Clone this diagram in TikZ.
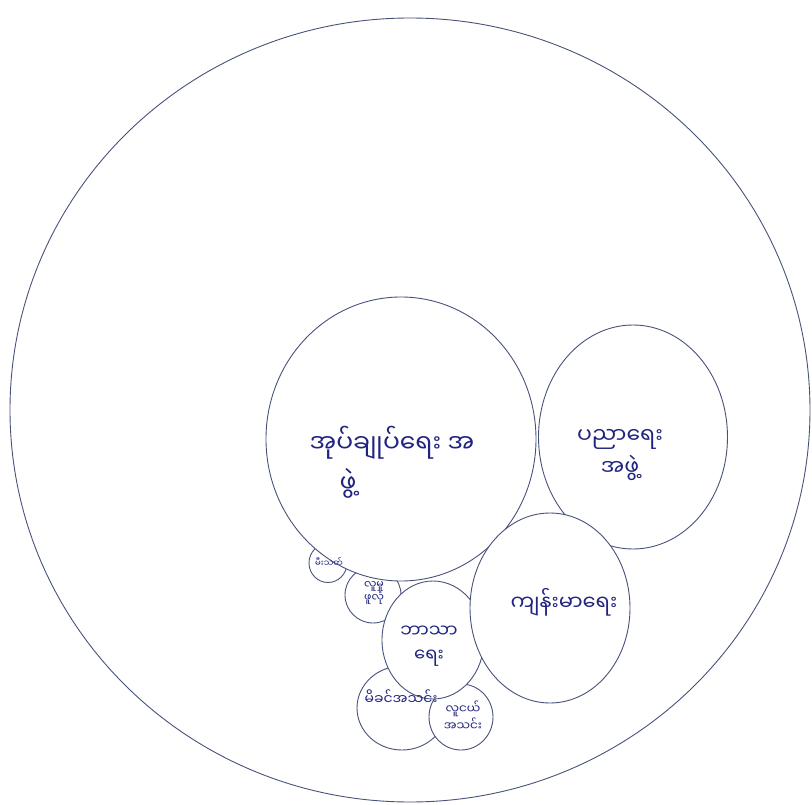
\documentclass[tikz,border=0pt]{standalone}
\usepackage{fontspec}
\newfontfamily\myafont[Script=Myanmar]{Noto Sans Myanmar UI}
\definecolor{InkLine}{RGB}{72,82,122}
\definecolor{InkText}{RGB}{32,36,128}
\usetikzlibrary{positioning,shapes.geometric}

\begin{document}
\begin{tikzpicture}[x=1pt, y=-1pt,
      orgcircle/.style ={ellipse, draw=InkLine, fill=white, line width=0.9pt, inner sep=0pt},
      lbl/.style       ={text=InkText, align=center, inner sep=1pt},
      big/.style       ={lbl, font=\myafont\fontsize{25}{40}\selectfont},
      mid/.style       ={lbl, font=\myafont\fontsize{21}{30}\selectfont},
      small/.style     ={lbl, font=\myafont\fontsize{14}{17}\selectfont},
      tiny/.style      ={lbl, font=\myafont\fontsize{11}{12}\selectfont},
  ]
  \useasboundingbox (0,0) rectangle (812,805);

  % ─ Village (outer circle) ─
  \node[orgcircle, fill=none, minimum width=800pt, minimum height=784pt] (village) at (410,410) {};

  % ─ Small groups (drawn first, partly hidden) ─
  \node[orgcircle, minimum width=38pt, minimum height=39pt]   (fire)     at (328,563) {};
  \node[orgcircle, minimum width=56pt, minimum height=56pt]   (social)   at (373,595) {};
  \node[orgcircle, minimum width=90pt, minimum height=84pt]   (mothers)  at (402,708) {};
  \node[orgcircle, minimum width=64pt, minimum height=66pt]   (youth)    at (461,717) {};
  \node[orgcircle, minimum width=102pt, minimum height=118pt] (religion) at (433,640) {};

  % ─ Main groups ─
  \node[orgcircle, minimum width=270pt, minimum height=284pt] (admin)     at (401,439) {};
  \node[orgcircle, minimum width=189pt, minimum height=224pt] (education) at (633,437) {};
  \node[orgcircle, minimum width=160pt, minimum height=190pt] (health)    at (550,608) {};

  % ─ Labels ─
  \node[big, align=left] (admintxt) at (392,462)
        {အုပ်ချုပ်ရေး အ\\\hspace{30pt}ဖွဲ့};
  \node[mid, font=\myafont\fontsize{22}{32}\selectfont] (edutxt) at (620,455) {ပညာရေး\\အဖွဲ့};
  \node[mid] (healthtxt) at (564,602) {ကျန်းမာရေး};
  \node[mid, font=\myafont\fontsize{18}{24}\selectfont] (religtxt) at (429,646) {ဘာသာ\\ရေး};
  \node[small] (mothertxt) at (401,697) {မိခင်အသင်း};
  \node[small, font=\myafont\fontsize{12}{14}\selectfont] (youthtxt) at (463,716) {လူငယ်\\အသင်း};
  \node[tiny] (socialtxt) at (374,593) {လူမှု\\ဖူလုံ};
  \node[tiny, font=\myafont\fontsize{8.5}{10}\selectfont] (firetxt) at (329,562) {မီးသတ်};
  \end{tikzpicture}
\end{document}
